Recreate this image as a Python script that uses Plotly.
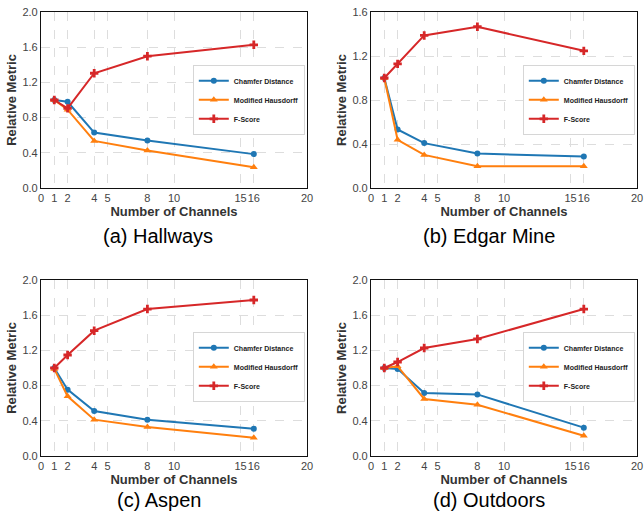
import plotly.graph_objects as go

channels = [1, 2, 4, 8, 16]
series_names = ["Chamfer Distance", "Modified Hausdorff", "F-Score"]

hallways_chamfer = [1.0, 0.98, 0.63, 0.54, 0.385]
hallways_hausdorff = [1.0, 0.89, 0.535, 0.426, 0.236]
hallways_fscore = [1.0, 0.905, 1.304, 1.498, 1.627]

edgar_chamfer = [1.0, 0.532, 0.408, 0.313, 0.286]
edgar_hausdorff = [1.0, 0.438, 0.301, 0.198, 0.198]
edgar_fscore = [1.0, 1.128, 1.387, 1.466, 1.247]

aspen_chamfer = [1.0, 0.754, 0.511, 0.413, 0.311]
aspen_hausdorff = [0.99, 0.678, 0.413, 0.33, 0.208]
aspen_fscore = [1.0, 1.148, 1.424, 1.67, 1.773]

outdoors_chamfer = [1.0, 0.99, 0.716, 0.70, 0.322]
outdoors_hausdorff = [1.0, 1.02, 0.648, 0.583, 0.231]
outdoors_fscore = [1.0, 1.068, 1.227, 1.33, 1.67]

panel_titles = ["(a) Hallways", "(b) Edgar Mine", "(c) Aspen", "(d) Outdoors"]
x_tickvals = [0, 1, 2, 4, 5, 8, 10, 15, 16, 20]
y_ticks_a = [0.0, 0.4, 0.8, 1.2, 1.6, 2.0]
y_ticks_b = [0.0, 0.4, 0.8, 1.2, 1.6]

panels = [
    (hallways_chamfer, hallways_hausdorff, hallways_fscore, y_ticks_a),
    (edgar_chamfer, edgar_hausdorff, edgar_fscore, y_ticks_b),
    (aspen_chamfer, aspen_hausdorff, aspen_fscore, y_ticks_a),
    (outdoors_chamfer, outdoors_hausdorff, outdoors_fscore, y_ticks_a),
]

colors = ["#1f77b4", "#ff7f0e", "#d62728"]
symbols = ["circle", "triangle-up", "cross"]
msizes = [6, 7, 7]

W, H = 644, 514
# plot areas in pixels: (left, right, top, bottom)
areas = [(41, 307, 12, 188), (371, 637, 12, 188), (41, 307, 280, 456), (371, 637, 280, 456)]
legend_pos = [(305, 100), (635, 100), (305, 367), (635, 367)]
title_pos = [(158, 236), (489, 236), (159, 500), (489, 500)]

fig = go.Figure()
FONT = "Liberation Sans, Arial, sans-serif"
layout = dict(width=W, height=H, margin=dict(l=0, r=0, t=0, b=0, autoexpand=False),
              paper_bgcolor="white", plot_bgcolor="white",
              font=dict(family=FONT, color="#444444"), annotations=[])

for i, (cd, mh, fs, yt) in enumerate(panels):
    sfx = "" if i == 0 else str(i + 1)
    leg = "legend" if i == 0 else "legend" + str(i + 1)
    for k, vals in enumerate([cd, mh, fs]):
        fig.add_trace(go.Scatter(
            x=channels, y=vals, mode="lines+markers", name="<b>" + series_names[k] + "</b>",
            line=dict(color=colors[k], width=2),
            marker=dict(symbol=symbols[k], size=msizes[k], color=colors[k]),
            xaxis="x" + sfx, yaxis="y" + sfx, legend=leg))
    l, r, t, b = areas[i]
    ax_common = dict(showgrid=True, gridcolor="#dddddd", griddash="dash", gridwidth=0.7,
                     zeroline=False, showline=True, linecolor="#111111", linewidth=1.2,
                     mirror=True, ticks="", automargin=False, tickangle=0,
                     tickfont=dict(size=11, color="#444444"))
    layout["xaxis" + sfx] = dict(domain=[l / W, r / W], anchor="y" + sfx, range=[0, 20],
                                 tickmode="array", tickvals=x_tickvals,
                                 title=dict(text="<b>Number of Channels</b>", font=dict(size=13, color="#333333"), standoff=0),
                                 **ax_common)
    layout["yaxis" + sfx] = dict(domain=[1 - b / H, 1 - t / H], anchor="x" + sfx,
                                 range=[0, yt[-1]], tickmode="array", tickvals=yt,
                                 ticktext=["%.1f" % v for v in yt],
                                 title=dict(text="<b>Relative Metric</b>", font=dict(size=13, color="#333333"), standoff=2),
                                 **ax_common)
    lx, ly = legend_pos[i]
    layout[leg] = dict(x=lx / W, y=1 - ly / H, xanchor="right", yanchor="middle",
                       bgcolor="white", bordercolor="#cccccc", borderwidth=0.8,
                       font=dict(size=7, color="#222222", family=FONT),
                       itemwidth=30, tracegroupgap=0)
    tx, ty = title_pos[i]
    layout["annotations"].append(dict(text=panel_titles[i], x=tx / W, y=1 - ty / H,
                                      xref="paper", yref="paper", showarrow=False,
                                      xanchor="center", yanchor="middle",
                                      font=dict(size=20, color="black", family=FONT)))

fig.update_layout(**layout)
fig.write_html("out.html", config={"displayModeBar": False},
               post_script="document.body.style.margin='0';")
